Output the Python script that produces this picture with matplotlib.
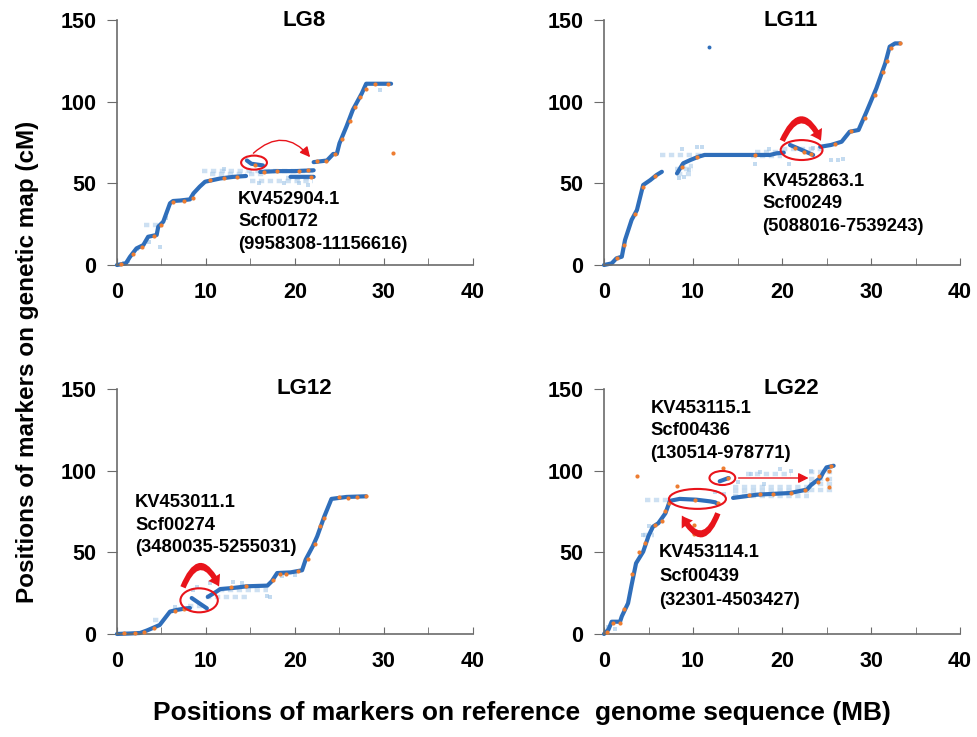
import numpy as np
import matplotlib
matplotlib.use("Agg")
import matplotlib.pyplot as plt
from matplotlib.patches import Ellipse, FancyArrowPatch

plt.rcParams['font.family'] = ['Liberation Sans', 'DejaVu Sans']
plt.rcParams['font.weight'] = 'bold'

nan = np.nan

# ---------------- data ----------------
# main marker trace (dark blue), NaN breaks the line
LG8_X = [0, 1.0, 1.46, 2.2, 2.96, 3.5, 4.46, 4.64, 5.2, 5.96, 6.3, 7.1, 8.2, 8.6, 9.3, 9.9, 11.6, 13.1, 14.5,
         nan, 14.6, 15.1, 16.4, nan, 16.1, 18.0, 20.0, 22.1, nan, 19.5, 22.1,
         nan, 22.1, 23.6, 24.3, 24.7, 25.0, 25.8, 26.5, 27.5, 28.0, 29.2, 30.8]
LG8_Y = [0, 1, 5, 10.2, 12.2, 17.3, 18.4, 23.5, 26.5, 37.8, 39.2, 39.5, 40.2, 43.9, 48, 51, 53, 54, 54.5,
         nan, 64, 62, 61, nan, 57, 57.5, 57.5, 58, nan, 54, 54,
         nan, 63, 64, 68, 68, 74.5, 85, 95, 105, 111, 111, 111]

LG11_X = [0, 0.86, 1.4, 2.0, 2.36, 3.1, 3.7, 4.4, 5.2, 5.9, 6.5, nan, 8.2, 8.9, 9.7, 10.6, 11.3, 14, 17,
          18.65, 19.4, 20.2, nan, 20.9, 22.2, 23.5, nan, 24.3, 25.5, 26.7, 27.6, 28.6, 29.5, 30.6, 31.6,
          32.1, 32.7, 33.3]
LG11_Y = [0, 1, 4.1, 5.1, 15.3, 27.6, 33.7, 49, 52, 55.1, 57.1, nan, 56.1, 62.3, 64.3, 66.3, 67.4, 67.4,
          67.4, 67.4, 68.4, 68.8, nan, 73.5, 70.5, 67.4, nan, 72.4, 73.5, 75.5, 81.6, 82.7, 93.9, 108.2,
          123.5, 133.7, 135.7, 135.7]

LG12_X = [0, 1.5, 2.6, 3.4, 4.8, 5.96, 6.7, 7.8, 8.2, nan, 8.4, 9.2, 10.1, nan, 10.2, 11.2, 11.6, 13.1,
          14.6, 16.9, 17.4, 18.0, 19.5, 20.8, 21.2, 22.0, 22.5, 23.3, 24.1, 25.8, 28.0]
LG12_Y = [0, 0.3, 0.6, 2.2, 5.5, 13.7, 14.7, 15.7, 15.9, nan, 22, 19, 15.7, nan, 22.7, 26, 27.5, 28.2,
          29.2, 29.6, 32.3, 37.3, 37.7, 39, 45.5, 53.7, 59.8, 72, 82.7, 83.9, 84.3]

LG22_X = [0, 0.5, 0.86, 1.8, 2.0, 2.7, 3.1, 3.6, 4.4, 5.0, 5.5, 6.1, 6.9, 7.4, 8.5, 10.4, 11.9, 12.5,
          12.8, nan, 13.0, 13.5, 14.0, nan, 14.5, 17.2, 20.9, 22.8, 23.3, 24.3, 24.6, 25.0, 25.8]
LG22_Y = [0, 2.7, 7.5, 7.5, 10.8, 18.8, 30, 43.3, 50.4, 60, 65.7, 67.8, 73.9, 81.5, 82.7, 82.2, 81.2, 80.6,
          79.5, nan, 93.5, 94.5, 95.5, nan, 83.3, 85.3, 86.3, 88.4, 91.4, 95.5, 98.6, 102, 103]

# orange markers
LG8_OX = [0.5, 1.8, 2.8, 4.2, 5.0, 6.3, 7.5, 8.5, 10.5, 12.0, 13.5, 15.5, 16.5, 18.0, 20.5, 21.5, 21.8,
          22.5, 23.5, 24.5, 25.3, 26.2, 26.7, 27.3, 28.0, 29.0, 30.5, 31.0]
LG8_OY = [0.5, 7, 11, 17.5, 24.5, 38.5, 39, 41, 52, 53.5, 54, 61.5, 57, 57.5, 57.5, 58, 54,
          63.5, 64, 68, 77, 88, 97, 103, 108, 111, 111, 68.5]
LG11_OX = [1.5, 2.2, 3.5, 4.4, 5.7, 8.8, 10.5, 17.0, 21.5, 22.5, 23.3, 26.0, 27.8, 29.3, 30.5, 31.3,
           31.8, 32.2, 33.3]
LG11_OY = [4, 12, 31, 48, 54.5, 60, 66, 67.5, 71.5, 69.5, 68, 74, 82, 90, 104, 118, 125, 133, 136]
LG12_OX = [0.8, 2.0, 3.0, 4.2, 6.5, 7.5, 12.8, 14.5, 17.5, 18.3, 19.0, 20.3, 21.5, 22.3, 22.8, 23.3,
           25.0, 26.0, 27.0, 28.0]
LG12_OY = [0.4, 0.5, 1.5, 3.5, 14, 15, 28.5, 29.5, 33, 36.5, 37, 38.5, 46, 55, 66, 71, 84, 83.5, 84, 84.5]
LG22_OX = [0.3, 1.0, 1.8, 2.3, 3.2, 3.9, 4.6, 5.7, 6.5, 6.8, 7.3, 10.2, 12.8, 13.9, 16.3, 17.5, 19.0,
           21.0, 22.6, 24.0, 25.0, 25.5, 24.2, 25.3, 3.7, 8.2, 10.1, 10.1, 13.4, 25.3]
LG22_OY = [1, 6.5, 7, 15, 37, 50, 56, 67, 69, 75, 80, 82, 80, 95.5, 85, 85.5, 86, 86.5, 88, 93, 95, 103,
           97, 90, 96.5, 90.4, 67, 61, 101.6, 100]

# light blue marker bands (x0, x1, y) and loose light blue markers
LG8_BX0 = [3.0, 9.6, 10.5, 15.0, 14.8, 19.0]
LG8_BX1 = [4.9, 22.0, 14.5, 22.0, 16.5, 22.0]
LG8_BY = [24.5, 57.8, 55.5, 51.5, 56, 53]
LG8_LX = [4.8, 3.6, 1.2, 0.8, 2.3, 18.8, 21.5, 29.5, 5.5, 12.0, 16.0, 20.5]
LG8_LY = [11, 14, 2.5, 1.5, 10, 50, 49, 107, 29, 58.5, 50.5, 50]

LG11_BX0 = [6.3, 8.0, 8.2, 16.5, 17.0, 20.0, 8.5]
LG11_BX1 = [11.0, 10.0, 9.8, 20.0, 20.0, 24.5, 10.0]
LG11_BY = [67.5, 58.5, 55.5, 67, 69.5, 71, 60.5]
LG11_LX = [8.4, 9.0, 8.8, 10.5, 11.0, 17.0, 25.5, 26.3, 26.9, 20.8, 23.5, 18.5, 9.5]
LG11_LY = [53.5, 54, 71, 72, 72.5, 62, 64.5, 64.5, 65, 62, 71.5, 71, 58]

LG12_BX0 = [10.0, 4.0, 11.5, 8.0]
LG12_BX1 = [15.0, 5.0, 17.0, 9.5]
LG12_BY = [22.5, 8.7, 27, 17]
LG12_LX = [16.9, 17.2, 9.0, 8.5, 10.5, 13.0, 14.0, 6.5, 18.5, 20.0]
LG12_LY = [23.5, 22.5, 29, 27, 31, 32, 31, 16.5, 35.5, 36]

LG22_BX0 = [4.6, 14.5, 14.5, 14.5, 23.0, 23.0, 23.0, 23.0, 4.4, 16.0]
LG22_BX1 = [7.5, 23.0, 23.0, 23.0, 26.0, 26.0, 26.0, 26.0, 5.6, 21.0]
LG22_BY = [82, 84.5, 87.5, 90, 88, 92, 95, 99, 60.8, 98]
LG22_LX = [4.4, 5.0, 16.5, 17.5, 19.8, 21.0, 23.3, 13.5, 12.5, 0.5, 1.2, 15.0, 18.0]
LG22_LY = [60.5, 66, 98, 99, 101, 100, 100, 86, 87, 4, 3, 93, 92]

TITLES = ["LG8", "LG11", "LG12", "LG22"]
NOTE_LG8 = "KV452904.1\nScf00172\n(9958308-11156616)"
NOTE_LG11 = "KV452863.1\nScf00249\n(5088016-7539243)"
NOTE_LG12 = "KV453011.1\nScf00274\n(3480035-5255031)"
NOTE_LG22A = "KV453115.1\nScf00436\n(130514-978771)"
NOTE_LG22B = "KV453114.1\nScf00439\n(32301-4503427)"

DARK = '#2F6EBA'
ORANGE = '#ED7D31'
LIGHT = '#9DC3E6'
RED = '#E8141B'


def draw_panel(ax, tx, ty, ox, oy, bx0, bx1, by, lx, ly, title):
    ax.hlines(by, bx0, bx1, colors=LIGHT, lw=3.2, alpha=0.5, linestyles=[(0, (1.2, 0.8))])
    ax.scatter(lx, ly, s=5, marker='s', color=LIGHT, alpha=0.6, lw=0)
    ax.plot(tx, ty, color=DARK, lw=3.0, solid_capstyle='round', clip_on=False)
    ax.scatter(ox, oy, s=9, color=ORANGE, lw=0, zorder=3, clip_on=False)

    ax.set_xlim(0, 40)
    ax.set_ylim(0, 150)
    ax.set_xticks([0, 10, 20, 30, 40])
    ax.set_xticks([5, 15, 25, 35], minor=True)
    ax.set_yticks([0, 50, 100, 150])
    for s in ['top', 'right']:
        ax.spines[s].set_visible(False)
    for s in ['left', 'bottom']:
        ax.spines[s].set_color('#6b6b6b')
        ax.spines[s].set_linewidth(1.2)
    ax.tick_params(axis='x', which='both', direction='in', length=5, color='#6b6b6b',
                   labelsize=15.5, pad=12)
    ax.tick_params(axis='y', direction='out', length=7, color='#6b6b6b', labelsize=15.5, pad=8)
    for lab in ax.get_xticklabels() + ax.get_yticklabels():
        lab.set_fontweight('bold')
    ax.text(21, 150, title, ha='center', va='center', fontsize=16, fontweight='bold')


def red_arrow(ax, a, b, rad, thick=True):
    if thick:
        style = "simple,head_width=10,head_length=7.5,tail_width=4"
        arr = FancyArrowPatch(a, b, connectionstyle=f"arc3,rad={rad}", arrowstyle=style,
                              color=RED, lw=0, zorder=5)
    else:
        arr = FancyArrowPatch(a, b, connectionstyle=f"arc3,rad={rad}", arrowstyle="-|>,head_width=3,head_length=6",
                              color=RED, lw=1.0, zorder=5)
    ax.add_patch(arr)


def red_ellipse(ax, c, w, h):
    ax.add_patch(Ellipse(c, w, h, fill=False, edgecolor=RED, lw=1.5, zorder=4))


fig = plt.figure(figsize=(9.78, 7.37), dpi=100)
ax8 = fig.add_axes([0.1196, 0.6404, 0.364, 0.3324])
ax11 = fig.add_axes([0.6176, 0.6404, 0.364, 0.3324])
ax12 = fig.add_axes([0.1196, 0.1398, 0.364, 0.3324])
ax22 = fig.add_axes([0.6176, 0.1398, 0.364, 0.3324])

draw_panel(ax8, LG8_X, LG8_Y, LG8_OX, LG8_OY, LG8_BX0, LG8_BX1, LG8_BY, LG8_LX, LG8_LY, TITLES[0])
draw_panel(ax11, LG11_X, LG11_Y, LG11_OX, LG11_OY, LG11_BX0, LG11_BX1, LG11_BY, LG11_LX, LG11_LY, TITLES[1])
draw_panel(ax12, LG12_X, LG12_Y, LG12_OX, LG12_OY, LG12_BX0, LG12_BX1, LG12_BY, LG12_LX, LG12_LY, TITLES[2])
draw_panel(ax22, LG22_X, LG22_Y, LG22_OX, LG22_OY, LG22_BX0, LG22_BX1, LG22_BY, LG22_LX, LG22_LY, TITLES[3])

# lone dark marker in LG11
ax11.scatter([11.8], [133.5], s=8, color=DARK, lw=0)

note_kw = dict(ha='left', va='top', fontsize=13.2, fontweight='bold', linespacing=1.42)

# LG8
red_ellipse(ax8, (15.4, 62.7), 2.9, 8.6)
red_arrow(ax8, (15.1, 67.3), (21.9, 64.7), -0.55, thick=False)
ax8.text(13.6, 45.5, NOTE_LG8, **note_kw)

# LG11
red_ellipse(ax11, (22.2, 70.4), 4.7, 12.2)
red_arrow(ax11, (19.9, 74.5), (24.5, 74.5), -1.15)
ax11.text(17.8, 56.5, NOTE_LG11, **note_kw)

# LG12
red_ellipse(ax12, (9.23, 20.6), 4.2, 14.7)
red_arrow(ax12, (7.3, 27.0), (11.6, 27.5), -1.2)
ax12.text(2.05, 85.5, NOTE_LG12, **note_kw)

# LG22
red_ellipse(ax22, (10.5, 82.7), 6.4, 12.2)
red_ellipse(ax22, (13.3, 95.5), 2.9, 8.6)
red_arrow(ax22, (12.9, 75.5), (8.6, 74.0), -1.15)
red_arrow(ax22, (14.8, 95.5), (23.3, 95.5), 0.0, thick=False)
ax22.text(5.2, 143.5, NOTE_LG22A, **note_kw)
ax22.text(6.2, 55.0, NOTE_LG22B, ha='left', va='top', fontsize=13.2, fontweight='bold', linespacing=1.55)

fig.text(0.028, 0.509, "Positions of markers on genetic map (cM)", rotation=90, ha='center', va='center',
         fontsize=17.5, fontweight='bold')
fig.text(0.534, 0.033, "Positions of markers on reference  genome sequence (MB)", ha='center', va='center',
         fontsize=19, fontweight='bold')

fig.savefig("out.png", dpi=100)
